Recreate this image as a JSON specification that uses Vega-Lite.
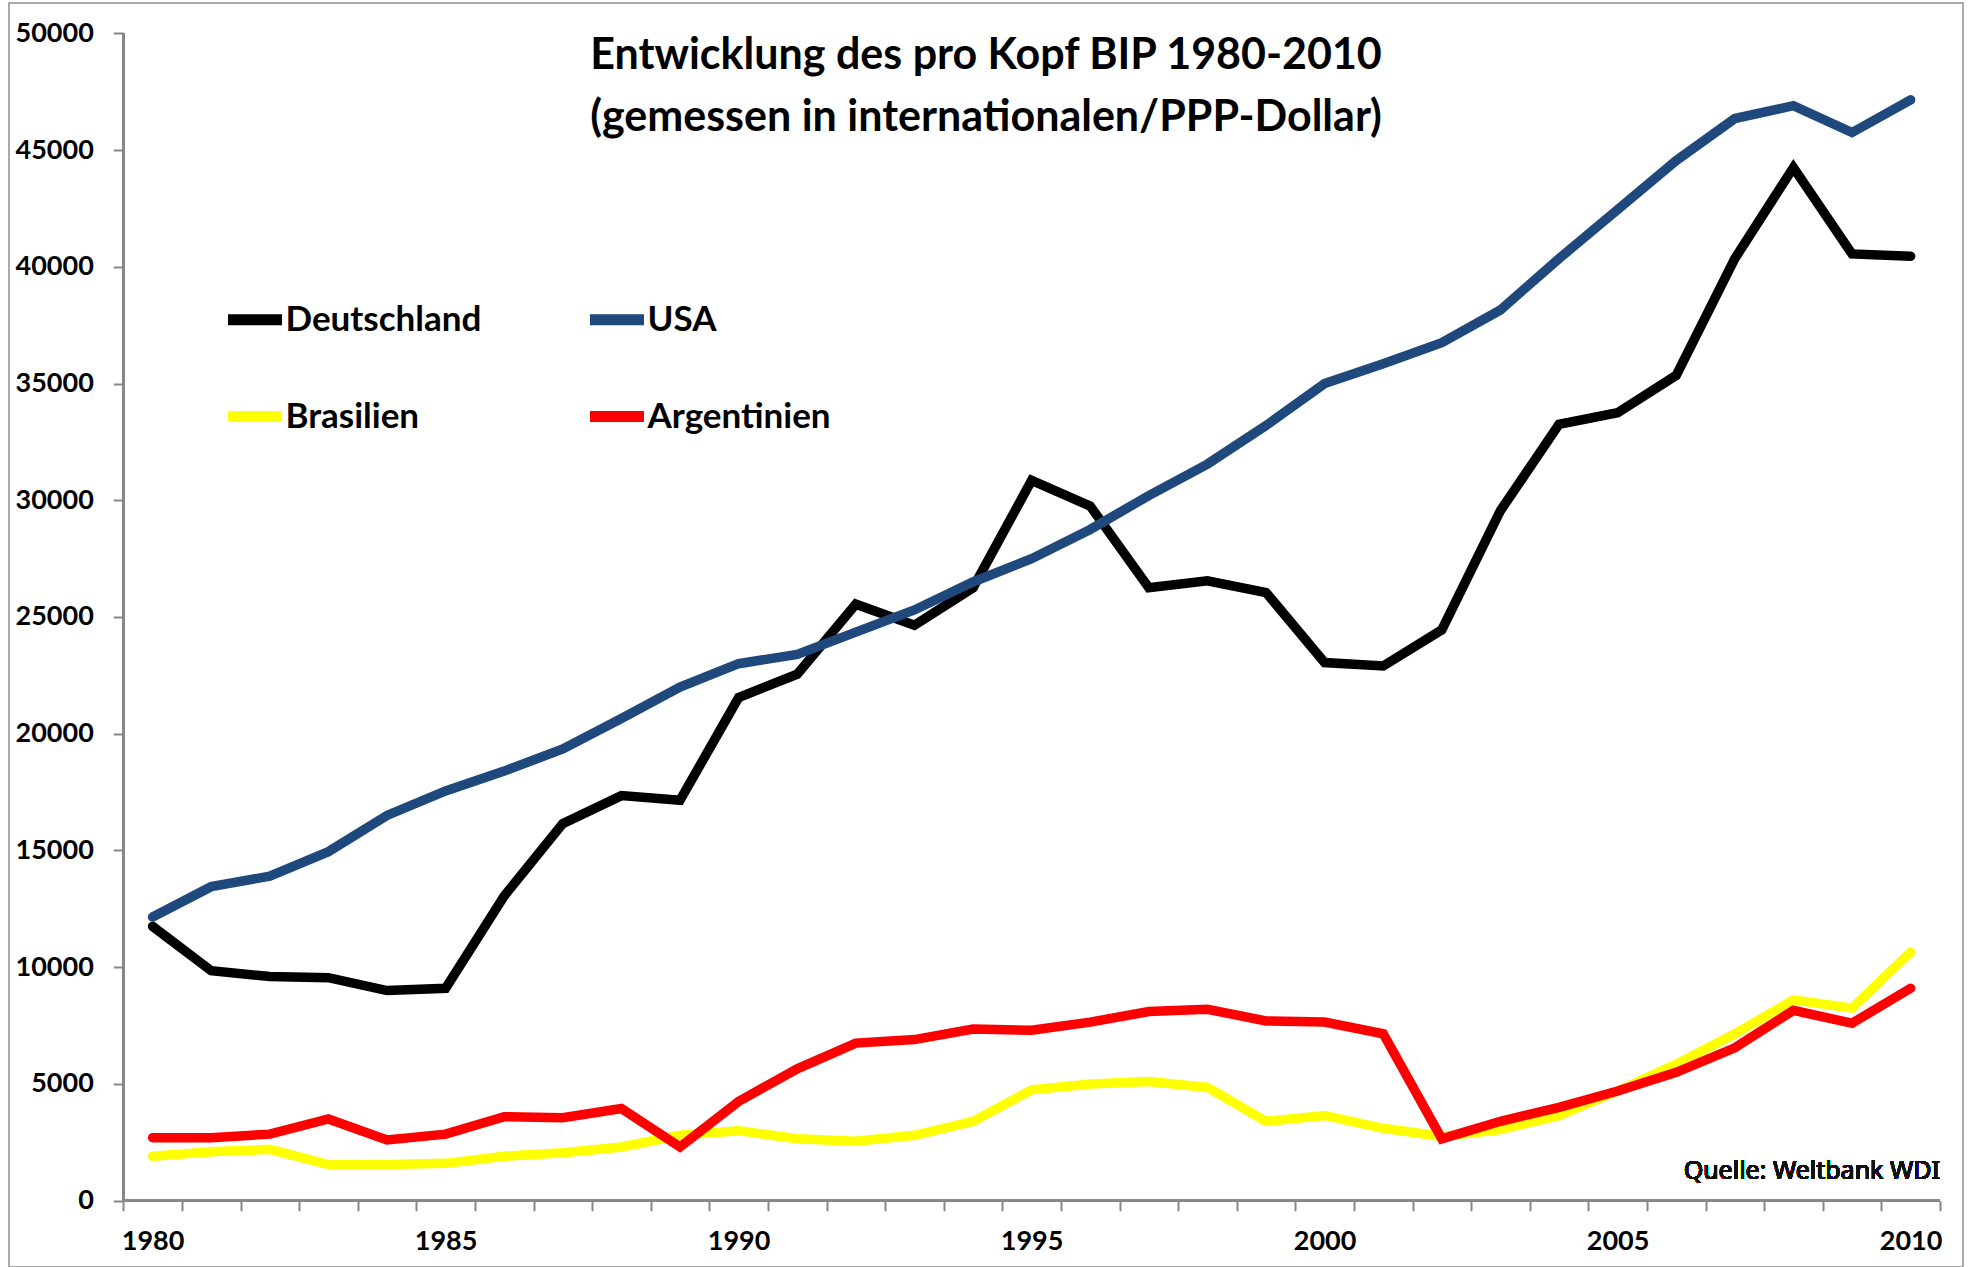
{
  "$schema": "https://vega.github.io/schema/vega-lite/v6.json",
  "autosize": {"type": "none"},
  "padding": {"left": 9, "top": 3, "right": 8, "bottom": 0},
  "width": 1954,
  "height": 1264,
  "background": "white",
  "title": {
    "text": ["Entwicklung des pro Kopf BIP 1980-2010", "(gemessen in internationalen/PPP-Dollar)"],
    "font": "Lato",
    "fontSize": 43,
    "fontWeight": "bold",
    "color": "black",
    "anchor": "middle",
    "frame": "group",
    "baseline": "top",
    "lineHeight": 62,
    "offset": 0,
    "dy": 137
  },
  "data": {"values": [
    {"year":1980,"country":"Deutschland","gdp":11750},{"year":1981,"country":"Deutschland","gdp":9850},{"year":1982,"country":"Deutschland","gdp":9600},{"year":1983,"country":"Deutschland","gdp":9550},{"year":1984,"country":"Deutschland","gdp":9000},{"year":1985,"country":"Deutschland","gdp":9100},{"year":1986,"country":"Deutschland","gdp":13050},{"year":1987,"country":"Deutschland","gdp":16150},{"year":1988,"country":"Deutschland","gdp":17350},{"year":1989,"country":"Deutschland","gdp":17150},{"year":1990,"country":"Deutschland","gdp":21550},{"year":1991,"country":"Deutschland","gdp":22550},{"year":1992,"country":"Deutschland","gdp":25550},{"year":1993,"country":"Deutschland","gdp":24650},{"year":1994,"country":"Deutschland","gdp":26250},{"year":1995,"country":"Deutschland","gdp":30850},{"year":1996,"country":"Deutschland","gdp":29750},{"year":1997,"country":"Deutschland","gdp":26250},{"year":1998,"country":"Deutschland","gdp":26550},{"year":1999,"country":"Deutschland","gdp":26050},{"year":2000,"country":"Deutschland","gdp":23050},{"year":2001,"country":"Deutschland","gdp":22900},{"year":2002,"country":"Deutschland","gdp":24450},{"year":2003,"country":"Deutschland","gdp":29550},{"year":2004,"country":"Deutschland","gdp":33250},{"year":2005,"country":"Deutschland","gdp":33750},{"year":2006,"country":"Deutschland","gdp":35350},{"year":2007,"country":"Deutschland","gdp":40350},{"year":2008,"country":"Deutschland","gdp":44250},{"year":2009,"country":"Deutschland","gdp":40550},{"year":2010,"country":"Deutschland","gdp":40450},
    {"year":1980,"country":"USA","gdp":12150},{"year":1981,"country":"USA","gdp":13450},{"year":1982,"country":"USA","gdp":13900},{"year":1983,"country":"USA","gdp":14950},{"year":1984,"country":"USA","gdp":16500},{"year":1985,"country":"USA","gdp":17550},{"year":1986,"country":"USA","gdp":18400},{"year":1987,"country":"USA","gdp":19350},{"year":1988,"country":"USA","gdp":20650},{"year":1989,"country":"USA","gdp":22000},{"year":1990,"country":"USA","gdp":23000},{"year":1991,"country":"USA","gdp":23400},{"year":1992,"country":"USA","gdp":24350},{"year":1993,"country":"USA","gdp":25300},{"year":1994,"country":"USA","gdp":26500},{"year":1995,"country":"USA","gdp":27500},{"year":1996,"country":"USA","gdp":28750},{"year":1997,"country":"USA","gdp":30200},{"year":1998,"country":"USA","gdp":31550},{"year":1999,"country":"USA","gdp":33200},{"year":2000,"country":"USA","gdp":35000},{"year":2001,"country":"USA","gdp":35850},{"year":2002,"country":"USA","gdp":36750},{"year":2003,"country":"USA","gdp":38150},{"year":2004,"country":"USA","gdp":40350},{"year":2005,"country":"USA","gdp":42450},{"year":2006,"country":"USA","gdp":44550},{"year":2007,"country":"USA","gdp":46350},{"year":2008,"country":"USA","gdp":46900},{"year":2009,"country":"USA","gdp":45750},{"year":2010,"country":"USA","gdp":47150},
    {"year":1980,"country":"Brasilien","gdp":1900},{"year":1981,"country":"Brasilien","gdp":2100},{"year":1982,"country":"Brasilien","gdp":2200},{"year":1983,"country":"Brasilien","gdp":1550},{"year":1984,"country":"Brasilien","gdp":1550},{"year":1985,"country":"Brasilien","gdp":1600},{"year":1986,"country":"Brasilien","gdp":1900},{"year":1987,"country":"Brasilien","gdp":2050},{"year":1988,"country":"Brasilien","gdp":2300},{"year":1989,"country":"Brasilien","gdp":2800},{"year":1990,"country":"Brasilien","gdp":3000},{"year":1991,"country":"Brasilien","gdp":2650},{"year":1992,"country":"Brasilien","gdp":2550},{"year":1993,"country":"Brasilien","gdp":2800},{"year":1994,"country":"Brasilien","gdp":3400},{"year":1995,"country":"Brasilien","gdp":4750},{"year":1996,"country":"Brasilien","gdp":5000},{"year":1997,"country":"Brasilien","gdp":5100},{"year":1998,"country":"Brasilien","gdp":4850},{"year":1999,"country":"Brasilien","gdp":3400},{"year":2000,"country":"Brasilien","gdp":3650},{"year":2001,"country":"Brasilien","gdp":3100},{"year":2002,"country":"Brasilien","gdp":2750},{"year":2003,"country":"Brasilien","gdp":3050},{"year":2004,"country":"Brasilien","gdp":3650},{"year":2005,"country":"Brasilien","gdp":4700},{"year":2006,"country":"Brasilien","gdp":5850},{"year":2007,"country":"Brasilien","gdp":7150},{"year":2008,"country":"Brasilien","gdp":8600},{"year":2009,"country":"Brasilien","gdp":8250},{"year":2010,"country":"Brasilien","gdp":10650},
    {"year":1980,"country":"Argentinien","gdp":2700},{"year":1981,"country":"Argentinien","gdp":2700},{"year":1982,"country":"Argentinien","gdp":2850},{"year":1983,"country":"Argentinien","gdp":3500},{"year":1984,"country":"Argentinien","gdp":2600},{"year":1985,"country":"Argentinien","gdp":2850},{"year":1986,"country":"Argentinien","gdp":3600},{"year":1987,"country":"Argentinien","gdp":3550},{"year":1988,"country":"Argentinien","gdp":3950},{"year":1989,"country":"Argentinien","gdp":2300},{"year":1990,"country":"Argentinien","gdp":4250},{"year":1991,"country":"Argentinien","gdp":5650},{"year":1992,"country":"Argentinien","gdp":6750},{"year":1993,"country":"Argentinien","gdp":6900},{"year":1994,"country":"Argentinien","gdp":7350},{"year":1995,"country":"Argentinien","gdp":7300},{"year":1996,"country":"Argentinien","gdp":7650},{"year":1997,"country":"Argentinien","gdp":8100},{"year":1998,"country":"Argentinien","gdp":8200},{"year":1999,"country":"Argentinien","gdp":7700},{"year":2000,"country":"Argentinien","gdp":7650},{"year":2001,"country":"Argentinien","gdp":7150},{"year":2002,"country":"Argentinien","gdp":2650},{"year":2003,"country":"Argentinien","gdp":3400},{"year":2004,"country":"Argentinien","gdp":4000},{"year":2005,"country":"Argentinien","gdp":4700},{"year":2006,"country":"Argentinien","gdp":5500},{"year":2007,"country":"Argentinien","gdp":6550},{"year":2008,"country":"Argentinien","gdp":8150},{"year":2009,"country":"Argentinien","gdp":7600},{"year":2010,"country":"Argentinien","gdp":9100}
  ]},
  "layer": [
    {
      "mark": {"type": "rule", "color": "#878787", "strokeWidth": 2},
      "encoding": {
        "x": {"datum": 1979.5, "type": "quantitative"},
        "y": {"datum": 0, "type": "quantitative"},
        "y2": {"datum": 50000}
      }
    },
    {
      "mark": {"type": "rule", "color": "#878787", "strokeWidth": 2},
      "encoding": {
        "x": {"datum": 1979.5, "type": "quantitative"},
        "x2": {"datum": 2010.5},
        "y": {"datum": 0, "type": "quantitative"}
      }
    },
    {
      "mark": {"type": "line", "strokeWidth": 9.5, "strokeCap": "round", "strokeJoin": "miter", "clip": false},
      "encoding": {
        "x": {
          "field": "year", "type": "quantitative",
          "scale": {"domain": [1977.5495, 2010.894], "nice": false, "zero": false},
          "axis": {
            "title": null, "grid": false, "domain": false,
            "values": [1979,1980,1981,1982,1983,1984,1985,1986,1987,1988,1989,1990,1991,1992,1993,1994,1995,1996,1997,1998,1999,2000,2001,2002,2003,2004,2005,2006,2007,2008,2009,2010],
            "tickOffset": 29.3, "labelOffset": -29.3,
            "labelExpr": "datum.value % 5 == 0 ? format(datum.value, 'd') : ''",
            "tickSize": 10, "tickWidth": 2, "tickColor": "#878787",
            "offset": -66.3,
            "labelFont": "Lato", "labelFontSize": 27, "labelFontWeight": "bold", "labelColor": "black",
            "labelBaseline": "middle", "labelPadding": 31,
            "labelOverlap": false, "labelBound": false, "labelFlush": false
          }
        },
        "y": {
          "field": "gdp", "type": "quantitative",
          "scale": {"domain": [-2839.6, 51297.7], "nice": false, "zero": false},
          "axis": {
            "title": null, "grid": false, "domain": false,
            "values": [0,5000,10000,15000,20000,25000,30000,35000,40000,45000,50000],
            "format": "d",
            "tickSize": 10, "tickWidth": 2, "tickColor": "#878787",
            "offset": -114.3,
            "labelFont": "Lato", "labelFontSize": 27, "labelFontWeight": "bold", "labelColor": "black",
            "labelPadding": 20,
            "labelOverlap": false, "labelBound": false, "labelFlush": false
          }
        },
        "color": {
          "field": "country", "type": "nominal",
          "scale": {"domain": ["Deutschland", "USA", "Brasilien", "Argentinien"], "range": ["#000000", "#1F497D", "#FFFF00", "#FF0000"]},
          "legend": {
            "title": null, "orient": "none", "legendX": 213.5, "legendY": 284,
            "direction": "horizontal",
            "columns": 2, "symbolType": "stroke", "symbolSize": 2916, "symbolStrokeWidth": 11,
            "labelFont": "Lato", "labelFontSize": 35, "labelFontWeight": "bold", "labelColor": "black",
            "labelLimit": 500,
            "labelOffset": -2, "columnPadding": 86, "rowPadding": 42
          }
        },
        "order": {"field": "year", "type": "quantitative"}
      }
    },
    {
      "mark": {"type": "text", "align": "right", "baseline": "middle", "font": "Noto Sans", "fontSize": 25, "fontWeight": 400, "color": "#111111", "text": "Quelle: Weltbank WDI"},
      "encoding": {
        "x": {"datum": 2010.5, "type": "quantitative"},
        "y": {"datum": 1270, "type": "quantitative"}
      }
    }
  ],
  "config": {
    "view": {"stroke": "#8e8e8e", "strokeWidth": 1.5}
  }
}
